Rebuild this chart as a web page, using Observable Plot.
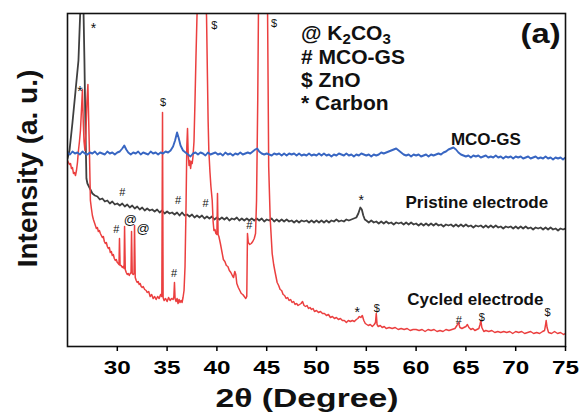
<!DOCTYPE html>
<html><head><meta charset="utf-8">
<script src="https://cdn.jsdelivr.net/npm/d3@7"></script>
<script src="https://cdn.jsdelivr.net/npm/@observablehq/plot@0.6"></script>
<style>body{margin:0;background:#fff}</style>
</head><body><div id="chart"></div>
<script>
// 2θ tick values
const xTicks = [30, 35, 40, 45, 50, 55, 60, 65, 70, 75];

// MCO-GS pattern [2θ, intensity a.u.]
const mcoGS = [[25.0,194],[25.25,192],[25.5,195],[25.75,193],[26.0,194],[26.25,192],[26.5,195],[26.75,193],[27.0,192],[27.25,194],[27.5,193],[27.75,195],[28.0,192],[28.25,194],[28.5,193],[28.75,192],[29.0,195],[29.25,193],[29.5,194],[29.75,192],[30.0,194],[30.25,195],[30.5,198],[30.7,201],[30.9,197],[31.1,194],[31.35,192],[31.6,194],[31.85,193],[32.1,195],[32.35,192],[32.6,194],[32.85,193],[33.1,192],[33.35,195],[33.6,193],[33.85,194],[34.1,192],[34.35,194],[34.6,193],[34.85,195],[35.1,194],[35.35,196],[35.6,200],[35.8,206],[36.0,214],[36.15,209],[36.35,201],[36.6,196],[36.85,194],[37.1,192],[37.35,190],[37.6,193],[37.85,194],[38.1,192],[38.35,194],[38.6,193],[38.85,191],[39.1,194],[39.35,192],[39.6,193],[39.85,194],[40.1,192],[40.35,193],[40.6,191],[40.85,194],[41.1,192],[41.35,193],[41.6,191],[41.85,193],[42.1,192],[42.35,194],[42.6,192],[42.85,193],[43.1,194],[43.35,193],[43.6,195],[43.85,197],[44.05,198],[44.25,195],[44.5,193],[44.75,192],[45.0,193],[45.25,192],[45.5,191],[45.75,193],[46.0,192],[46.25,193],[46.5,191],[46.75,193],[47.0,191],[47.25,193],[47.5,192],[47.75,193],[48.0,191],[48.25,193],[48.5,191],[48.75,192],[49.0,191],[49.25,193],[49.5,191],[49.75,192],[50.0,191],[50.25,193],[50.5,191],[50.75,193],[51.0,191],[51.25,192],[51.5,190],[51.75,192],[52.0,191],[52.25,193],[52.5,192],[52.75,191],[53.0,193],[53.25,191],[53.5,192],[53.75,190],[54.0,192],[54.25,191],[54.5,193],[54.75,192],[55.0,191],[55.25,192],[55.5,190],[55.75,192],[56.0,191],[56.25,192],[56.5,194],[56.75,193],[57.0,194],[57.25,195],[57.5,196],[57.75,197],[58.0,198],[58.25,196],[58.5,194],[58.75,192],[59.0,191],[59.25,192],[59.5,190],[59.75,192],[60.0,191],[60.25,192],[60.5,190],[60.75,191],[61.0,192],[61.25,190],[61.5,192],[61.75,191],[62.0,192],[62.25,193],[62.5,192],[62.75,194],[63.0,195],[63.25,197],[63.5,198],[63.75,199],[64.0,197],[64.25,194],[64.5,192],[64.75,191],[65.0,190],[65.25,191],[65.5,189],[65.75,191],[66.0,190],[66.25,191],[66.5,189],[66.75,190],[67.0,191],[67.25,189],[67.5,190],[67.75,189],[68.0,191],[68.25,189],[68.5,190],[68.75,188],[69.0,190],[69.25,189],[69.5,190],[69.75,188],[70.0,190],[70.25,189],[70.5,190],[70.75,188],[71.0,189],[71.25,190],[71.5,188],[71.75,189],[72.0,190],[72.25,188],[72.5,189],[72.75,188],[73.0,190],[73.25,188],[73.5,189],[73.75,187],[74.0,189],[74.25,188],[74.5,189],[74.75,187],[75.0,189]];

// Pristine electrode pattern
const pristine = [[25.0,188],[25.2,196],[25.5,224],[25.8,255],[26.1,286],[26.3,340],[26.45,700],[26.6,340],[26.7,286],[26.8,220],[26.9,168],[27.0,163],[27.1,161],[27.3,157],[27.5,153],[27.75,151],[28.0,150],[28.25,147],[28.5,148],[28.75,145],[29.0,146],[29.25,143],[29.5,145],[29.75,142],[30.0,143],[30.25,141],[30.5,143],[30.75,140],[31.0,142],[31.25,139],[31.5,141],[31.75,138],[32.0,140],[32.25,137],[32.5,139],[32.75,136],[33.0,138],[33.25,136],[33.5,137],[33.75,135],[34.0,137],[34.25,134],[34.5,136],[34.75,133],[35.0,135],[35.25,133],[35.5,134],[35.75,132],[36.0,134],[36.25,131],[36.5,134],[36.75,131],[37.0,132],[37.25,130],[37.5,132],[37.75,129],[38.0,131],[38.25,129],[38.5,131],[38.75,128],[39.0,130],[39.25,128],[39.5,130],[39.75,127],[40.0,129],[40.25,127],[40.5,129],[40.75,127],[41.0,129],[41.25,126],[41.5,128],[41.75,127],[42.0,129],[42.25,126],[42.5,128],[42.75,126],[43.0,128],[43.25,126],[43.5,128],[43.75,126],[44.0,128],[44.25,126],[44.5,128],[44.75,125],[45.0,127],[45.25,126],[45.5,128],[45.75,125],[46.0,127],[46.25,125],[46.5,127],[46.75,125],[47.0,127],[47.25,125],[47.5,126],[47.75,124],[48.0,126],[48.25,124],[48.5,126],[48.75,125],[49.0,126],[49.25,124],[49.5,126],[49.75,124],[50.0,126],[50.25,124],[50.5,126],[50.75,124],[51.0,126],[51.25,124],[51.5,126],[51.75,125],[52.0,127],[52.25,125],[52.5,126],[52.75,125],[53.0,127],[53.25,126],[53.5,127],[53.75,128],[54.0,129],[54.2,133],[54.4,139],[54.55,137],[54.7,131],[54.85,127],[55.0,126],[55.25,124],[55.5,126],[55.75,124],[56.0,125],[56.25,123],[56.5,125],[56.75,123],[57.0,125],[57.25,123],[57.5,124],[57.75,122],[58.0,124],[58.25,123],[58.5,124],[58.75,122],[59.0,124],[59.25,122],[59.5,124],[59.75,122],[60.0,123],[60.25,121],[60.5,123],[60.75,121],[61.0,123],[61.25,121],[61.5,123],[61.75,121],[62.0,123],[62.25,121],[62.5,122],[62.75,120],[63.0,122],[63.25,121],[63.5,122],[63.75,120],[64.0,122],[64.25,120],[64.5,122],[64.75,120],[65.0,122],[65.25,120],[65.5,121],[65.75,119],[66.0,121],[66.25,120],[66.5,121],[66.75,119],[67.0,121],[67.25,119],[67.5,121],[67.75,119],[68.0,121],[68.25,119],[68.5,120],[68.75,118],[69.0,120],[69.25,119],[69.5,120],[69.75,118],[70.0,120],[70.25,118],[70.5,120],[70.75,118],[71.0,120],[71.25,118],[71.5,119],[71.75,117],[72.0,119],[72.25,118],[72.5,119],[72.75,117],[73.0,119],[73.25,117],[73.5,119],[73.75,117],[74.0,118],[74.25,116],[74.5,118],[74.75,117],[75.0,118]];

// Cycled electrode pattern
const cycled = [[25.0,186],[25.1,184],[25.2,182],[25.3,183],[25.4,178],[25.5,179],[25.6,173],[25.7,174],[25.8,171],[25.9,176],[26.0,184],[26.1,196],[26.2,205],[26.3,216],[26.42,240],[26.5,257],[26.58,225],[26.66,205],[26.75,196],[26.85,214],[26.95,245],[27.05,262],[27.13,225],[27.2,196],[27.3,146],[27.4,138],[27.5,131],[27.6,127],[27.7,124],[27.8,121],[27.9,118],[28.0,119],[28.1,115],[28.2,116],[28.3,113],[28.4,111],[28.5,109],[28.6,110],[28.7,105],[28.8,103],[28.9,104],[29.0,100],[29.1,98],[29.2,99],[29.3,94],[29.4,95],[29.5,91],[29.6,92],[29.7,88],[29.8,86],[29.9,87],[30.0,84],[30.1,83],[30.17,82],[30.22,108],[30.28,81],[30.4,81],[30.5,79],[30.6,80],[30.68,78],[30.73,120],[30.8,77],[30.9,74],[31.0,72],[31.1,73],[31.2,71],[31.3,73],[31.38,74],[31.43,115],[31.5,73],[31.6,72],[31.68,73],[31.73,121],[31.8,69],[31.9,66],[32.0,64],[32.1,65],[32.2,62],[32.3,63],[32.4,60],[32.5,59],[32.6,60],[32.75,57],[32.9,56],[33.0,54],[33.15,55],[33.3,50],[33.45,52],[33.6,48],[33.75,50],[33.9,47],[34.05,50],[34.2,48],[34.35,52],[34.47,50],[34.54,234],[34.6,49],[34.7,46],[34.85,48],[35.0,45],[35.15,49],[35.3,46],[35.45,48],[35.6,47],[35.68,50],[35.74,64],[35.8,48],[35.9,45],[36.0,48],[36.1,43],[36.2,47],[36.3,44],[36.4,46],[36.5,44],[36.6,49],[36.7,56],[36.8,80],[36.9,140],[36.98,200],[37.05,218],[37.12,192],[37.2,181],[37.28,186],[37.36,178],[37.44,185],[37.52,183],[37.6,190],[37.7,205],[37.8,245],[37.9,290],[38.0,330],[38.05,345],[38.45,700],[38.9,345],[38.96,330],[39.05,270],[39.12,225],[39.19,196],[39.3,175],[39.4,160],[39.53,146],[39.62,125],[39.7,116],[39.8,117],[39.9,113],[40.0,112],[40.06,153],[40.12,112],[40.2,110],[40.35,103],[40.5,95],[40.65,87],[40.8,85],[40.95,81],[41.1,80],[41.25,76],[41.4,74],[41.55,71],[41.67,69],[41.8,75],[41.9,72],[42.0,63],[42.15,59],[42.3,56],[42.45,53],[42.6,52],[42.75,50],[42.9,48],[43.0,50],[43.07,113],[43.15,104],[43.3,102],[43.45,103],[43.6,105],[43.75,108],[43.88,113],[43.98,146],[44.1,246],[44.18,345],[44.63,700],[45.08,345],[45.2,180],[45.35,128],[45.55,93],[45.7,82],[45.85,74],[46.05,64],[46.2,61],[46.35,57],[46.5,56],[46.65,52],[46.8,51],[46.95,48],[47.1,49],[47.25,46],[47.4,47],[47.55,44],[47.7,45],[47.85,42],[48.0,43],[48.15,41],[48.3,42],[48.45,43],[48.6,45],[48.75,41],[48.9,40],[49.05,41],[49.2,38],[49.35,39],[49.5,37],[49.65,38],[49.8,35],[50.0,36],[50.2,34],[50.4,35],[50.6,33],[50.8,33],[51.0,31],[51.2,32],[51.4,29],[51.6,30],[51.8,28],[52.0,29],[52.2,27],[52.4,28],[52.6,26],[52.8,26],[53.0,24],[53.2,26],[53.4,25],[53.6,26],[53.8,25],[54.0,27],[54.15,28],[54.3,30],[54.45,29],[54.6,31],[54.75,26],[54.9,23],[55.05,22],[55.2,21],[55.4,22],[55.6,20],[55.8,22],[55.92,24],[56.0,33],[56.08,22],[56.2,20],[56.4,21],[56.6,19],[56.8,20],[57.0,18],[57.3,19],[57.6,18],[57.9,19],[58.2,17],[58.5,18],[58.8,17],[59.1,18],[59.4,16],[59.7,17],[60.0,17],[60.3,16],[60.6,17],[60.9,15],[61.2,17],[61.5,16],[61.8,17],[62.1,15],[62.4,16],[62.7,15],[63.0,17],[63.3,16],[63.6,17],[63.9,18],[64.1,21],[64.25,24],[64.4,19],[64.6,18],[64.8,19],[65.0,20],[65.15,22],[65.3,19],[65.5,17],[65.7,18],[65.9,16],[66.1,17],[66.3,18],[66.42,22],[66.5,26],[66.6,19],[66.8,15],[67.0,16],[67.3,15],[67.6,16],[67.9,14],[68.2,15],[68.5,14],[68.8,15],[69.1,14],[69.4,15],[69.7,13],[70.0,15],[70.3,14],[70.6,15],[70.9,13],[71.2,14],[71.5,15],[71.8,13],[72.1,14],[72.4,13],[72.7,15],[72.9,16],[73.0,22],[73.06,26],[73.15,19],[73.3,14],[73.6,13],[73.9,15],[74.2,13],[74.5,14],[74.8,12],[75.0,13]];

// Curve names and their anchor [2θ, intensity]
const curveNames = ["MCO-GS", "Pristine electrode", "Cycled electrode"];
const curveNameTheta = [67.0, 66.1, 65.95];
const curveNameI = [207, 143.5, 46.5];

// Phase markers: symbol, 2θ, intensity
const markSymbols = ["*", "*", "$", "$", "$", "#", "#", "#", "#", "@", "@", "#", "#", "*", "*", "$", "#", "$", "$"];
const markTheta   = [27.6, 26.25, 34.6, 39.75, 45.75, 30.5, 36.1, 38.85, 29.9, 31.3, 32.6, 35.7, 43.25, 54.5, 54.1, 56.05, 64.3, 66.6, 73.2];
const markI       = [318, 255, 244, 321, 323, 154, 146, 143, 117, 127, 118, 73, 121, 146, 34, 38, 26, 29, 34];

// Phase legend
const legendLines = ["@ K₂CO₃", "# MCO-GS", "$ ZnO", "* Carbon"];
const legendI = [313.5, 289, 266, 243.5];

const panelTag = "(a)";

const curveLabels = curveNames.map((t, i) => ({t, x: curveNameTheta[i], y: curveNameI[i]}));
const marks = markSymbols.map((t, i) => ({t, x: markTheta[i], y: markI[i]}));
const legend = legendLines.map((t, i) => ({t, x: 48.45, y: legendI[i]}));

const font = "Liberation Sans, Arial, Helvetica, sans-serif";
const svg = Plot.plot({
  width: 579, height: 414,
  marginLeft: 67, marginRight: 14, marginTop: 13, marginBottom: 68,
  style: {fontFamily: font, background: "#fff", color: "#000", overflow: "visible"},
  x: {domain: [25, 75]},
  y: {domain: [0, 333], axis: null},
  marks: [
    Plot.line(pristine, {x: d => d[0], y: d => d[1], stroke: "#3f3f3f", strokeWidth: 1.8, clip: true}),
    Plot.line(cycled, {x: d => d[0], y: d => d[1], stroke: "#eb3f3f", strokeWidth: 1.5, clip: true}),
    Plot.line(mcoGS, {x: d => d[0], y: d => d[1], stroke: "#3866c2", strokeWidth: 1.9, clip: true}),
    Plot.frame({stroke: "#111", strokeWidth: 1.6}),
    Plot.axisX({ticks: xTicks, tickSize: 5, tickPadding: 9, fontSize: 19, fontWeight: "bold", label: null, strokeWidth: 1.5}),
    Plot.text(curveLabels, {x: "x", y: "y", text: "t", fontSize: 17, fontWeight: "bold", fill: "#111"}),
    Plot.text(marks, {x: "x", y: "y", text: "t", fontSize: d => d.t === "@" ? 13 : d.t === "*" ? 14 : 11, fontWeight: d => d.t === "@" ? "normal" : "bold", fill: "#111"}),
    Plot.text(legend, {x: "x", y: "y", text: "t", textAnchor: "start", fontSize: 21, fontWeight: "bold", fill: "#111"}),
    Plot.text([panelTag], {x: 72.5, y: 312, text: d => d, fontSize: 28, fontWeight: "bold", fill: "#111"}),
    Plot.text(["2θ (Degree)"], {frameAnchor: "bottom", textAnchor: "middle", lineAnchor: "middle", dx: -9.5, dy: 52.5, text: d => d, fontSize: 26, fontWeight: "bold", fill: "#111"}),
    Plot.text(["Intensity (a. u.)"], {frameAnchor: "left", textAnchor: "middle", lineAnchor: "middle", dx: -39, dy: -11.5, rotate: -90, text: d => d, fontSize: 28, fontWeight: "bold", fill: "#111"})
  ]
});
document.getElementById("chart").appendChild(svg);

const s = d3.select(svg);
// widen bold glyphs to the reference proportions
s.selectAll('g[aria-label="x-axis tick label"] text').attr("textLength", 27).attr("lengthAdjust", "spacingAndGlyphs");
s.selectAll("text").filter(function () { return this.textContent === "2θ (Degree)"; }).attr("textLength", 183).attr("lengthAdjust", "spacingAndGlyphs");
s.selectAll("text").filter(function () { return this.textContent === "(a)"; }).attr("textLength", 40).attr("lengthAdjust", "spacingAndGlyphs");
// real subscripts in the K2CO3 legend line
s.selectAll("text").filter(function () { return this.textContent === legendLines[0]; }).each(function () {
  const t = d3.select(this);
  t.text(null);
  t.append("tspan").text("@ K");
  t.append("tspan").attr("dy", 4).attr("font-size", 15).text("2");
  t.append("tspan").attr("dy", -4).text("CO");
  t.append("tspan").attr("dy", 4).attr("font-size", 15).text("3");
});
</script>
</body></html>
